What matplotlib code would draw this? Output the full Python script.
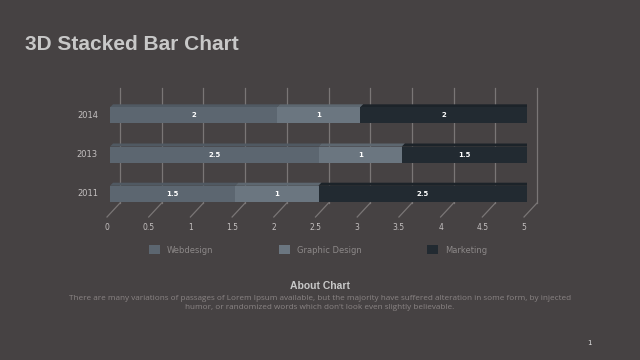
import matplotlib.pyplot as plt
from matplotlib.patches import Patch
import numpy as np

years = ["2011", "2013", "2014"]
webdesign = [1.5, 2.5, 2]
graphic = [1, 1, 1]
marketing = [2.5, 1.5, 2]
series_names = ["Webdesign", "Graphic Design", "Marketing"]
xticks = [0, 0.5, 1, 1.5, 2, 2.5, 3, 3.5, 4, 4.5, 5]

bg = "#464243"
front_cols = ["#5c6670", "#6b7680", "#222a31"]
top_cols = ["#505962", "#5d6770", "#1c2329"]
side_col = "#151a1f"
grid_col = "#7a7676"

fig = plt.figure(figsize=(6.4, 3.6), dpi=100, facecolor=bg)
ax = fig.add_axes([110 / 640, (360 - 230) / 360, 417 / 640, 150 / 360])
ax.set_facecolor(bg)
ax.set_xlim(0, 5)
ax.set_ylim(-0.926, 2.901)
ax.axis("off")

# pixel -> data helpers
PX = 5 / 417.0
PY = 1 / 39.2
def ypix(py):
    return (193.7 - py) * PY

bar_h = 16 * PY
dx, dy = 3 * PX, 3 * PY

# back wall grid + floor
y_floor_back = ypix(203)
y_top = ypix(88)
y_floor_front = ypix(217)
for v in xticks:
    xb = v + 10 * PX
    ax.plot([xb, xb], [y_floor_back, y_top], color=grid_col, lw=0.9, zorder=0, clip_on=False)
    ax.plot([xb, v - 3 * PX], [y_floor_back, y_floor_front], color=grid_col, lw=0.9, zorder=0, clip_on=False)
    ax.text(v - 3 * PX, ypix(227), "{:g}".format(v), color="#c4c0c0", fontsize=5.5,
            ha="center", va="center")

ypos = np.arange(len(years))
left = np.zeros(len(years))
for k, vals in enumerate([webdesign, graphic, marketing]):
    vals = np.array(vals, dtype=float)
    ax.barh(ypos, vals, left=left, height=bar_h, color=front_cols[k], zorder=3)
    for i in range(len(years)):
        l, r = left[i], left[i] + vals[i]
        yt = ypos[i] + bar_h / 2
        yb = ypos[i] - bar_h / 2
        ax.fill([l, r, r + dx, l + dx], [yt, yt, yt + dy, yt + dy], color=top_cols[k], zorder=2, lw=0)
        if k == 2:
            ax.fill([r, r + dx, r + dx, r], [yb, yb + dy, yt + dy, yt], color=side_col, zorder=2, lw=0)
        ax.text((l + r) / 2, ypos[i], "{:g}".format(vals[i]), color="white", fontsize=5,
                fontweight="bold", ha="center", va="center", zorder=4)
    left += vals

for i, yr in enumerate(years):
    ax.text(-12 * PX, ypos[i], yr, color="#c4c0c0", fontsize=6, ha="right", va="center")

handles = [Patch(facecolor=c, edgecolor="none") for c in front_cols]
leg = fig.legend(handles, series_names, loc="center", bbox_to_anchor=(318 / 640, 1 - 250 / 360),
                 ncol=3, frameon=False, fontsize=6, handlelength=1.3, handleheight=1.3,
                 handletextpad=0.8, columnspacing=7.9)
for t in leg.get_texts():
    t.set_color("#8c8888")

fig.text(25 / 640, 1 - 44 / 360, "3D Stacked Bar Chart", color="#c8c8c8", fontsize=15,
         fontweight="bold", family="Liberation Sans", ha="left", va="center")
fig.text(320 / 640, 1 - 286 / 360, "About Chart", color="#c8c8c8", fontsize=7.5,
         fontweight="bold", family="Liberation Sans", ha="center", va="center")
fig.text(320 / 640, 1 - 303 / 360,
         "There are many variations of passages of Lorem Ipsum available, but the majority have suffered alteration in some form, by injected\n"
         "humor, or randomized words which don't look even slightly believable.",
         color="#8a8484", fontsize=5.9, ha="center", va="center", linespacing=1.25, family="Open Sans")
fig.text(589 / 640, 1 - 343 / 360, "1", color="#e0e0e0", fontsize=5, ha="center", va="center")

fig.savefig("out.png", dpi=100, facecolor=bg)
